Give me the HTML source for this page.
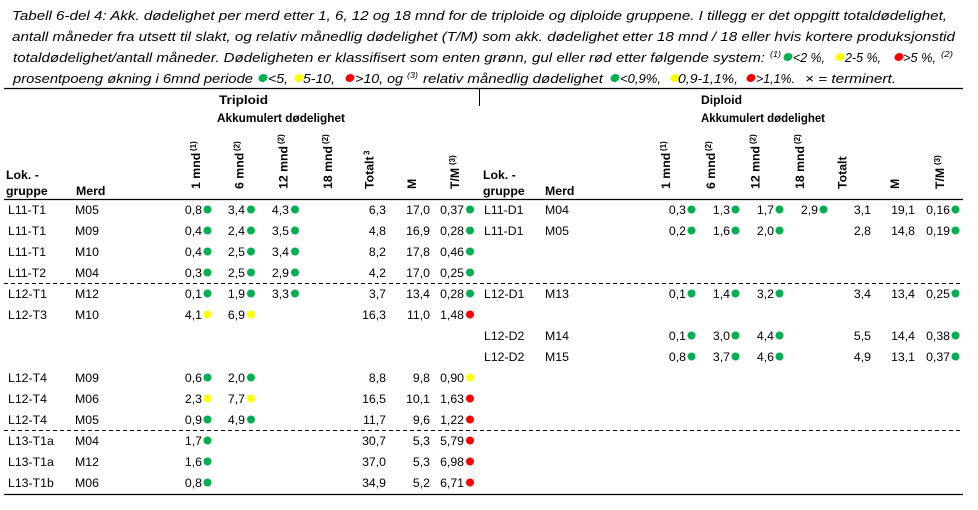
<!DOCTYPE html>
<html>
<head>
<meta charset="utf-8">
<style>
  html, body { margin:0; padding:0; background:#fff; }
  body { width:978px; height:510px; overflow:hidden; }
  svg { display:block; }
  .cap { font-family:"Liberation Sans", sans-serif; font-style:italic; font-size:13px; fill:#000; }
  .sup { font-family:"Liberation Sans", sans-serif; font-style:italic; font-size:8px; fill:#000; }
  .hb { font-family:"Liberation Sans", sans-serif; font-weight:bold; font-size:12.3px; fill:#000; }
  .hs { font-family:"Liberation Sans", sans-serif; font-weight:bold; font-size:8px; fill:#000; }
  .b { font-family:"Liberation Sans", sans-serif; font-size:12.3px; fill:#000; }
  .n { font-family:"Liberation Sans", sans-serif; font-size:12.3px; fill:#000; text-anchor:end; }
</style>
</head>
<body>
<svg width="978" height="510" viewBox="0 0 978 510" xmlns="http://www.w3.org/2000/svg">
  <rect width="978" height="510" fill="#fff"/>

  <!-- Caption -->
  <text class="cap" x="12" y="20" textLength="935" lengthAdjust="spacingAndGlyphs">Tabell 6-del 4: Akk. dødelighet per merd etter 1, 6, 12 og 18 mnd for de triploide og diploide gruppene. I tillegg er det oppgitt totaldødelighet,</text>
  <text class="cap" x="12" y="41" textLength="943" lengthAdjust="spacingAndGlyphs">antall måneder fra utsett til slakt, og relativ månedlig dødelighet (T/M) som akk. dødelighet etter 18 mnd / 18 eller hvis kortere produksjonstid</text>

  <text class="cap" x="13" y="62" textLength="752" lengthAdjust="spacingAndGlyphs">totaldødelighet/antall måneder. Dødeligheten er klassifisert som enten grønn, gul eller rød etter følgende system:</text>
  <text class="sup" x="770" y="57" textLength="11" lengthAdjust="spacingAndGlyphs">(1)</text>
  <ellipse cx="788" cy="57" rx="4.6" ry="3.8" transform="rotate(-25 788 57)" fill="#00B050"/>
  <text class="cap" x="793" y="62" textLength="32" lengthAdjust="spacingAndGlyphs">&lt;2 %,</text>
  <ellipse cx="840" cy="57" rx="4.6" ry="3.8" transform="rotate(-25 840 57)" fill="#FFFF00"/>
  <text class="cap" x="845" y="62" textLength="36" lengthAdjust="spacingAndGlyphs">2-5 %,</text>
  <ellipse cx="899" cy="57" rx="4.6" ry="3.8" transform="rotate(-25 899 57)" fill="#FF0000"/>
  <text class="cap" x="903" y="62" textLength="33" lengthAdjust="spacingAndGlyphs">&gt;5 %,</text>
  <text class="sup" x="941" y="57" textLength="12" lengthAdjust="spacingAndGlyphs">(2)</text>

  <text class="cap" x="13" y="83" textLength="240" lengthAdjust="spacingAndGlyphs">prosentpoeng økning i 6mnd periode</text>
  <ellipse cx="263" cy="78" rx="4.6" ry="3.8" transform="rotate(-25 263 78)" fill="#00B050"/>
  <text class="cap" x="268" y="83" textLength="20" lengthAdjust="spacingAndGlyphs">&lt;5,</text>
  <ellipse cx="299" cy="78" rx="4.6" ry="3.8" transform="rotate(-25 299 78)" fill="#FFFF00"/>
  <text class="cap" x="303" y="83" textLength="32" lengthAdjust="spacingAndGlyphs">5-10,</text>
  <ellipse cx="350" cy="78" rx="4.6" ry="3.8" transform="rotate(-25 350 78)" fill="#FF0000"/>
  <text class="cap" x="355" y="83" textLength="48" lengthAdjust="spacingAndGlyphs">&gt;10, og</text>
  <text class="sup" x="407" y="78" textLength="11" lengthAdjust="spacingAndGlyphs">(3)</text>
  <text class="cap" x="423" y="83" textLength="180" lengthAdjust="spacingAndGlyphs">relativ månedlig dødelighet</text>
  <ellipse cx="615" cy="78" rx="4.6" ry="3.8" transform="rotate(-25 615 78)" fill="#00B050"/>
  <text class="cap" x="620" y="83" textLength="41" lengthAdjust="spacingAndGlyphs">&lt;0,9%,</text>
  <ellipse cx="675" cy="78" rx="4.6" ry="3.8" transform="rotate(-25 675 78)" fill="#FFFF00"/>
  <text class="cap" x="678" y="83" textLength="60" lengthAdjust="spacingAndGlyphs">0,9-1,1%,</text>
  <ellipse cx="751" cy="78" rx="4.6" ry="3.8" transform="rotate(-25 751 78)" fill="#FF0000"/>
  <text class="cap" x="756" y="83" textLength="39" lengthAdjust="spacingAndGlyphs">&gt;1,1%.</text>
  <text class="cap" x="805" y="83" textLength="91" lengthAdjust="spacingAndGlyphs">× = terminert.</text>

  <!-- Rules -->
  <line x1="4" y1="88.5" x2="963" y2="88.5" stroke="#000" stroke-width="1.2"/>
  <line x1="479.5" y1="88" x2="479.5" y2="106" stroke="#000" stroke-width="1"/>
  <line x1="4" y1="199.5" x2="963" y2="199.5" stroke="#000" stroke-width="1.3"/>
  <line x1="4" y1="283.5" x2="963" y2="283.5" stroke="#000" stroke-width="1" stroke-dasharray="4,3"/>
  <line x1="4" y1="430.5" x2="963" y2="430.5" stroke="#000" stroke-width="1" stroke-dasharray="4,3"/>
  <line x1="4" y1="494.5" x2="963" y2="494.5" stroke="#000" stroke-width="1.2"/>

  <!-- Header titles -->
  <text class="hb" x="219" y="104" textLength="49" lengthAdjust="spacingAndGlyphs">Triploid</text>
  <text class="hb" x="217" y="122" textLength="128" lengthAdjust="spacingAndGlyphs">Akkumulert dødelighet</text>
  <text class="hb" x="701" y="104" textLength="41" lengthAdjust="spacingAndGlyphs">Diploid</text>
  <text class="hb" x="701" y="122" textLength="124" lengthAdjust="spacingAndGlyphs">Akkumulert dødelighet</text>

  <text class="hb" x="6" y="179">Lok. -</text>
  <text class="hb" x="6" y="195">gruppe</text>
  <text class="hb" x="76" y="195">Merd</text>
  <text class="hb" x="483" y="179">Lok. -</text>
  <text class="hb" x="483" y="195">gruppe</text>
  <text class="hb" x="545" y="195">Merd</text>

  <!-- Rotated headers left -->
  <g>
    <text class="hb" transform="translate(200,189) rotate(-90)">1 mnd</text>
    <text class="hs" transform="translate(196,151) rotate(-90)">(1)</text>
    <text class="hb" transform="translate(243.5,189) rotate(-90)">6 mnd</text>
    <text class="hs" transform="translate(239.5,151) rotate(-90)">(2)</text>
    <text class="hb" transform="translate(287.5,189) rotate(-90)">12 mnd</text>
    <text class="hs" transform="translate(283.5,144) rotate(-90)">(2)</text>
    <text class="hb" transform="translate(332,189) rotate(-90)">18 mnd</text>
    <text class="hs" transform="translate(328,144) rotate(-90)">(2)</text>
    <text class="hb" transform="translate(373.5,189) rotate(-90)">Totalt</text>
    <text class="hs" transform="translate(369.5,155) rotate(-90)">3</text>
    <text class="hb" transform="translate(416,189) rotate(-90)">M</text>
    <text class="hb" transform="translate(459,189) rotate(-90)">T/M</text>
    <text class="hs" transform="translate(455,165) rotate(-90)">(3)</text>
  </g>
  <!-- Rotated headers right -->
  <g>
    <text class="hb" transform="translate(670,189) rotate(-90)">1 mnd</text>
    <text class="hs" transform="translate(666,151) rotate(-90)">(1)</text>
    <text class="hb" transform="translate(715,189) rotate(-90)">6 mnd</text>
    <text class="hs" transform="translate(711,151) rotate(-90)">(2)</text>
    <text class="hb" transform="translate(759.5,189) rotate(-90)">12 mnd</text>
    <text class="hs" transform="translate(755.5,144) rotate(-90)">(2)</text>
    <text class="hb" transform="translate(804,189) rotate(-90)">18 mnd</text>
    <text class="hs" transform="translate(800,144) rotate(-90)">(2)</text>
    <text class="hb" transform="translate(846.5,189) rotate(-90)">Totalt</text>
    <text class="hb" transform="translate(899,189) rotate(-90)">M</text>
    <text class="hb" transform="translate(944,189) rotate(-90)">T/M</text>
    <text class="hs" transform="translate(940,165) rotate(-90)">(3)</text>
  </g>

  <!-- LEFT BODY -->
  <text class="b" x="8" y="214">L11-T1</text><text class="b" x="75" y="214">M05</text>
  <text class="n" x="202" y="214">0,8</text><circle cx="207.5" cy="209.5" r="4" fill="#00B050"/>
  <text class="n" x="245" y="214">3,4</text><circle cx="251" cy="209.5" r="4" fill="#00B050"/>
  <text class="n" x="289" y="214">4,3</text><circle cx="295" cy="209.5" r="4" fill="#00B050"/>
  <text class="n" x="386" y="214">6,3</text><text class="n" x="430" y="214">17,0</text>
  <text class="n" x="464" y="214">0,37</text><circle cx="470" cy="209.5" r="4" fill="#00B050"/>

  <text class="b" x="8" y="235">L11-T1</text><text class="b" x="75" y="235">M09</text>
  <text class="n" x="202" y="235">0,4</text><circle cx="207.5" cy="230.5" r="4" fill="#00B050"/>
  <text class="n" x="245" y="235">2,4</text><circle cx="251" cy="230.5" r="4" fill="#00B050"/>
  <text class="n" x="289" y="235">3,5</text><circle cx="295" cy="230.5" r="4" fill="#00B050"/>
  <text class="n" x="386" y="235">4,8</text><text class="n" x="430" y="235">16,9</text>
  <text class="n" x="464" y="235">0,28</text><circle cx="470" cy="230.5" r="4" fill="#00B050"/>

  <text class="b" x="8" y="256">L11-T1</text><text class="b" x="75" y="256">M10</text>
  <text class="n" x="202" y="256">0,4</text><circle cx="207.5" cy="251.5" r="4" fill="#00B050"/>
  <text class="n" x="245" y="256">2,5</text><circle cx="251" cy="251.5" r="4" fill="#00B050"/>
  <text class="n" x="289" y="256">3,4</text><circle cx="295" cy="251.5" r="4" fill="#00B050"/>
  <text class="n" x="386" y="256">8,2</text><text class="n" x="430" y="256">17,8</text>
  <text class="n" x="464" y="256">0,46</text><circle cx="470" cy="251.5" r="4" fill="#00B050"/>

  <text class="b" x="8" y="277">L11-T2</text><text class="b" x="75" y="277">M04</text>
  <text class="n" x="202" y="277">0,3</text><circle cx="207.5" cy="272.5" r="4" fill="#00B050"/>
  <text class="n" x="245" y="277">2,5</text><circle cx="251" cy="272.5" r="4" fill="#00B050"/>
  <text class="n" x="289" y="277">2,9</text><circle cx="295" cy="272.5" r="4" fill="#00B050"/>
  <text class="n" x="386" y="277">4,2</text><text class="n" x="430" y="277">17,0</text>
  <text class="n" x="464" y="277">0,25</text><circle cx="470" cy="272.5" r="4" fill="#00B050"/>

  <text class="b" x="8" y="298">L12-T1</text><text class="b" x="75" y="298">M12</text>
  <text class="n" x="202" y="298">0,1</text><circle cx="207.5" cy="293.5" r="4" fill="#00B050"/>
  <text class="n" x="245" y="298">1,9</text><circle cx="251" cy="293.5" r="4" fill="#00B050"/>
  <text class="n" x="289" y="298">3,3</text><circle cx="295" cy="293.5" r="4" fill="#00B050"/>
  <text class="n" x="386" y="298">3,7</text><text class="n" x="430" y="298">13,4</text>
  <text class="n" x="464" y="298">0,28</text><circle cx="470" cy="293.5" r="4" fill="#00B050"/>

  <text class="b" x="8" y="319">L12-T3</text><text class="b" x="75" y="319">M10</text>
  <text class="n" x="202" y="319">4,1</text><circle cx="207.5" cy="314.5" r="4" fill="#FFFF00"/>
  <text class="n" x="245" y="319">6,9</text><circle cx="251" cy="314.5" r="4" fill="#FFFF00"/>
  <text class="n" x="386" y="319">16,3</text><text class="n" x="430" y="319">11,0</text>
  <text class="n" x="464" y="319">1,48</text><circle cx="470" cy="314.5" r="4" fill="#FF0000"/>

  <text class="b" x="8" y="382">L12-T4</text><text class="b" x="75" y="382">M09</text>
  <text class="n" x="202" y="382">0,6</text><circle cx="207.5" cy="377.5" r="4" fill="#00B050"/>
  <text class="n" x="245" y="382">2,0</text><circle cx="251" cy="377.5" r="4" fill="#00B050"/>
  <text class="n" x="386" y="382">8,8</text><text class="n" x="430" y="382">9,8</text>
  <text class="n" x="464" y="382">0,90</text><circle cx="470" cy="377.5" r="4" fill="#FFFF00"/>

  <text class="b" x="8" y="403">L12-T4</text><text class="b" x="75" y="403">M06</text>
  <text class="n" x="202" y="403">2,3</text><circle cx="207.5" cy="398.5" r="4" fill="#FFFF00"/>
  <text class="n" x="245" y="403">7,7</text><circle cx="251" cy="398.5" r="4" fill="#FFFF00"/>
  <text class="n" x="386" y="403">16,5</text><text class="n" x="430" y="403">10,1</text>
  <text class="n" x="464" y="403">1,63</text><circle cx="470" cy="398.5" r="4" fill="#FF0000"/>

  <text class="b" x="8" y="424">L12-T4</text><text class="b" x="75" y="424">M05</text>
  <text class="n" x="202" y="424">0,9</text><circle cx="207.5" cy="419.5" r="4" fill="#00B050"/>
  <text class="n" x="245" y="424">4,9</text><circle cx="251" cy="419.5" r="4" fill="#00B050"/>
  <text class="n" x="386" y="424">11,7</text><text class="n" x="430" y="424">9,6</text>
  <text class="n" x="464" y="424">1,22</text><circle cx="470" cy="419.5" r="4" fill="#FF0000"/>

  <text class="b" x="8" y="445">L13-T1a</text><text class="b" x="75" y="445">M04</text>
  <text class="n" x="202" y="445">1,7</text><circle cx="207.5" cy="440.5" r="4" fill="#00B050"/>
  <text class="n" x="386" y="445">30,7</text><text class="n" x="430" y="445">5,3</text>
  <text class="n" x="464" y="445">5,79</text><circle cx="470" cy="440.5" r="4" fill="#FF0000"/>

  <text class="b" x="8" y="466">L13-T1a</text><text class="b" x="75" y="466">M12</text>
  <text class="n" x="202" y="466">1,6</text><circle cx="207.5" cy="461.5" r="4" fill="#00B050"/>
  <text class="n" x="386" y="466">37,0</text><text class="n" x="430" y="466">5,3</text>
  <text class="n" x="464" y="466">6,98</text><circle cx="470" cy="461.5" r="4" fill="#FF0000"/>

  <text class="b" x="8" y="487">L13-T1b</text><text class="b" x="75" y="487">M06</text>
  <text class="n" x="202" y="487">0,8</text><circle cx="207.5" cy="482.5" r="4" fill="#00B050"/>
  <text class="n" x="386" y="487">34,9</text><text class="n" x="430" y="487">5,2</text>
  <text class="n" x="464" y="487">6,71</text><circle cx="470" cy="482.5" r="4" fill="#FF0000"/>

  <!-- RIGHT BODY -->
  <text class="b" x="484" y="214">L11-D1</text><text class="b" x="545" y="214">M04</text>
  <text class="n" x="686" y="214">0,3</text><circle cx="691.5" cy="209.5" r="4" fill="#00B050"/>
  <text class="n" x="730" y="214">1,3</text><circle cx="735.5" cy="209.5" r="4" fill="#00B050"/>
  <text class="n" x="774" y="214">1,7</text><circle cx="779.5" cy="209.5" r="4" fill="#00B050"/>
  <text class="n" x="818" y="214">2,9</text><circle cx="823.5" cy="209.5" r="4" fill="#00B050"/>
  <text class="n" x="871" y="214">3,1</text><text class="n" x="915" y="214">19,1</text>
  <text class="n" x="950" y="214">0,16</text><circle cx="955.5" cy="209.5" r="4" fill="#00B050"/>

  <text class="b" x="484" y="235">L11-D1</text><text class="b" x="545" y="235">M05</text>
  <text class="n" x="686" y="235">0,2</text><circle cx="691.5" cy="230.5" r="4" fill="#00B050"/>
  <text class="n" x="730" y="235">1,6</text><circle cx="735.5" cy="230.5" r="4" fill="#00B050"/>
  <text class="n" x="774" y="235">2,0</text><circle cx="779.5" cy="230.5" r="4" fill="#00B050"/>
  <text class="n" x="871" y="235">2,8</text><text class="n" x="915" y="235">14,8</text>
  <text class="n" x="950" y="235">0,19</text><circle cx="955.5" cy="230.5" r="4" fill="#00B050"/>

  <text class="b" x="484" y="298">L12-D1</text><text class="b" x="545" y="298">M13</text>
  <text class="n" x="686" y="298">0,1</text><circle cx="691.5" cy="293.5" r="4" fill="#00B050"/>
  <text class="n" x="730" y="298">1,4</text><circle cx="735.5" cy="293.5" r="4" fill="#00B050"/>
  <text class="n" x="774" y="298">3,2</text><circle cx="779.5" cy="293.5" r="4" fill="#00B050"/>
  <text class="n" x="871" y="298">3,4</text><text class="n" x="915" y="298">13,4</text>
  <text class="n" x="950" y="298">0,25</text><circle cx="955.5" cy="293.5" r="4" fill="#00B050"/>

  <text class="b" x="484" y="340">L12-D2</text><text class="b" x="545" y="340">M14</text>
  <text class="n" x="686" y="340">0,1</text><circle cx="691.5" cy="335.5" r="4" fill="#00B050"/>
  <text class="n" x="730" y="340">3,0</text><circle cx="735.5" cy="335.5" r="4" fill="#00B050"/>
  <text class="n" x="774" y="340">4,4</text><circle cx="779.5" cy="335.5" r="4" fill="#00B050"/>
  <text class="n" x="871" y="340">5,5</text><text class="n" x="915" y="340">14,4</text>
  <text class="n" x="950" y="340">0,38</text><circle cx="955.5" cy="335.5" r="4" fill="#00B050"/>

  <text class="b" x="484" y="361">L12-D2</text><text class="b" x="545" y="361">M15</text>
  <text class="n" x="686" y="361">0,8</text><circle cx="691.5" cy="356.5" r="4" fill="#00B050"/>
  <text class="n" x="730" y="361">3,7</text><circle cx="735.5" cy="356.5" r="4" fill="#00B050"/>
  <text class="n" x="774" y="361">4,6</text><circle cx="779.5" cy="356.5" r="4" fill="#00B050"/>
  <text class="n" x="871" y="361">4,9</text><text class="n" x="915" y="361">13,1</text>
  <text class="n" x="950" y="361">0,37</text><circle cx="955.5" cy="356.5" r="4" fill="#00B050"/>
</svg>
</body>
</html>
